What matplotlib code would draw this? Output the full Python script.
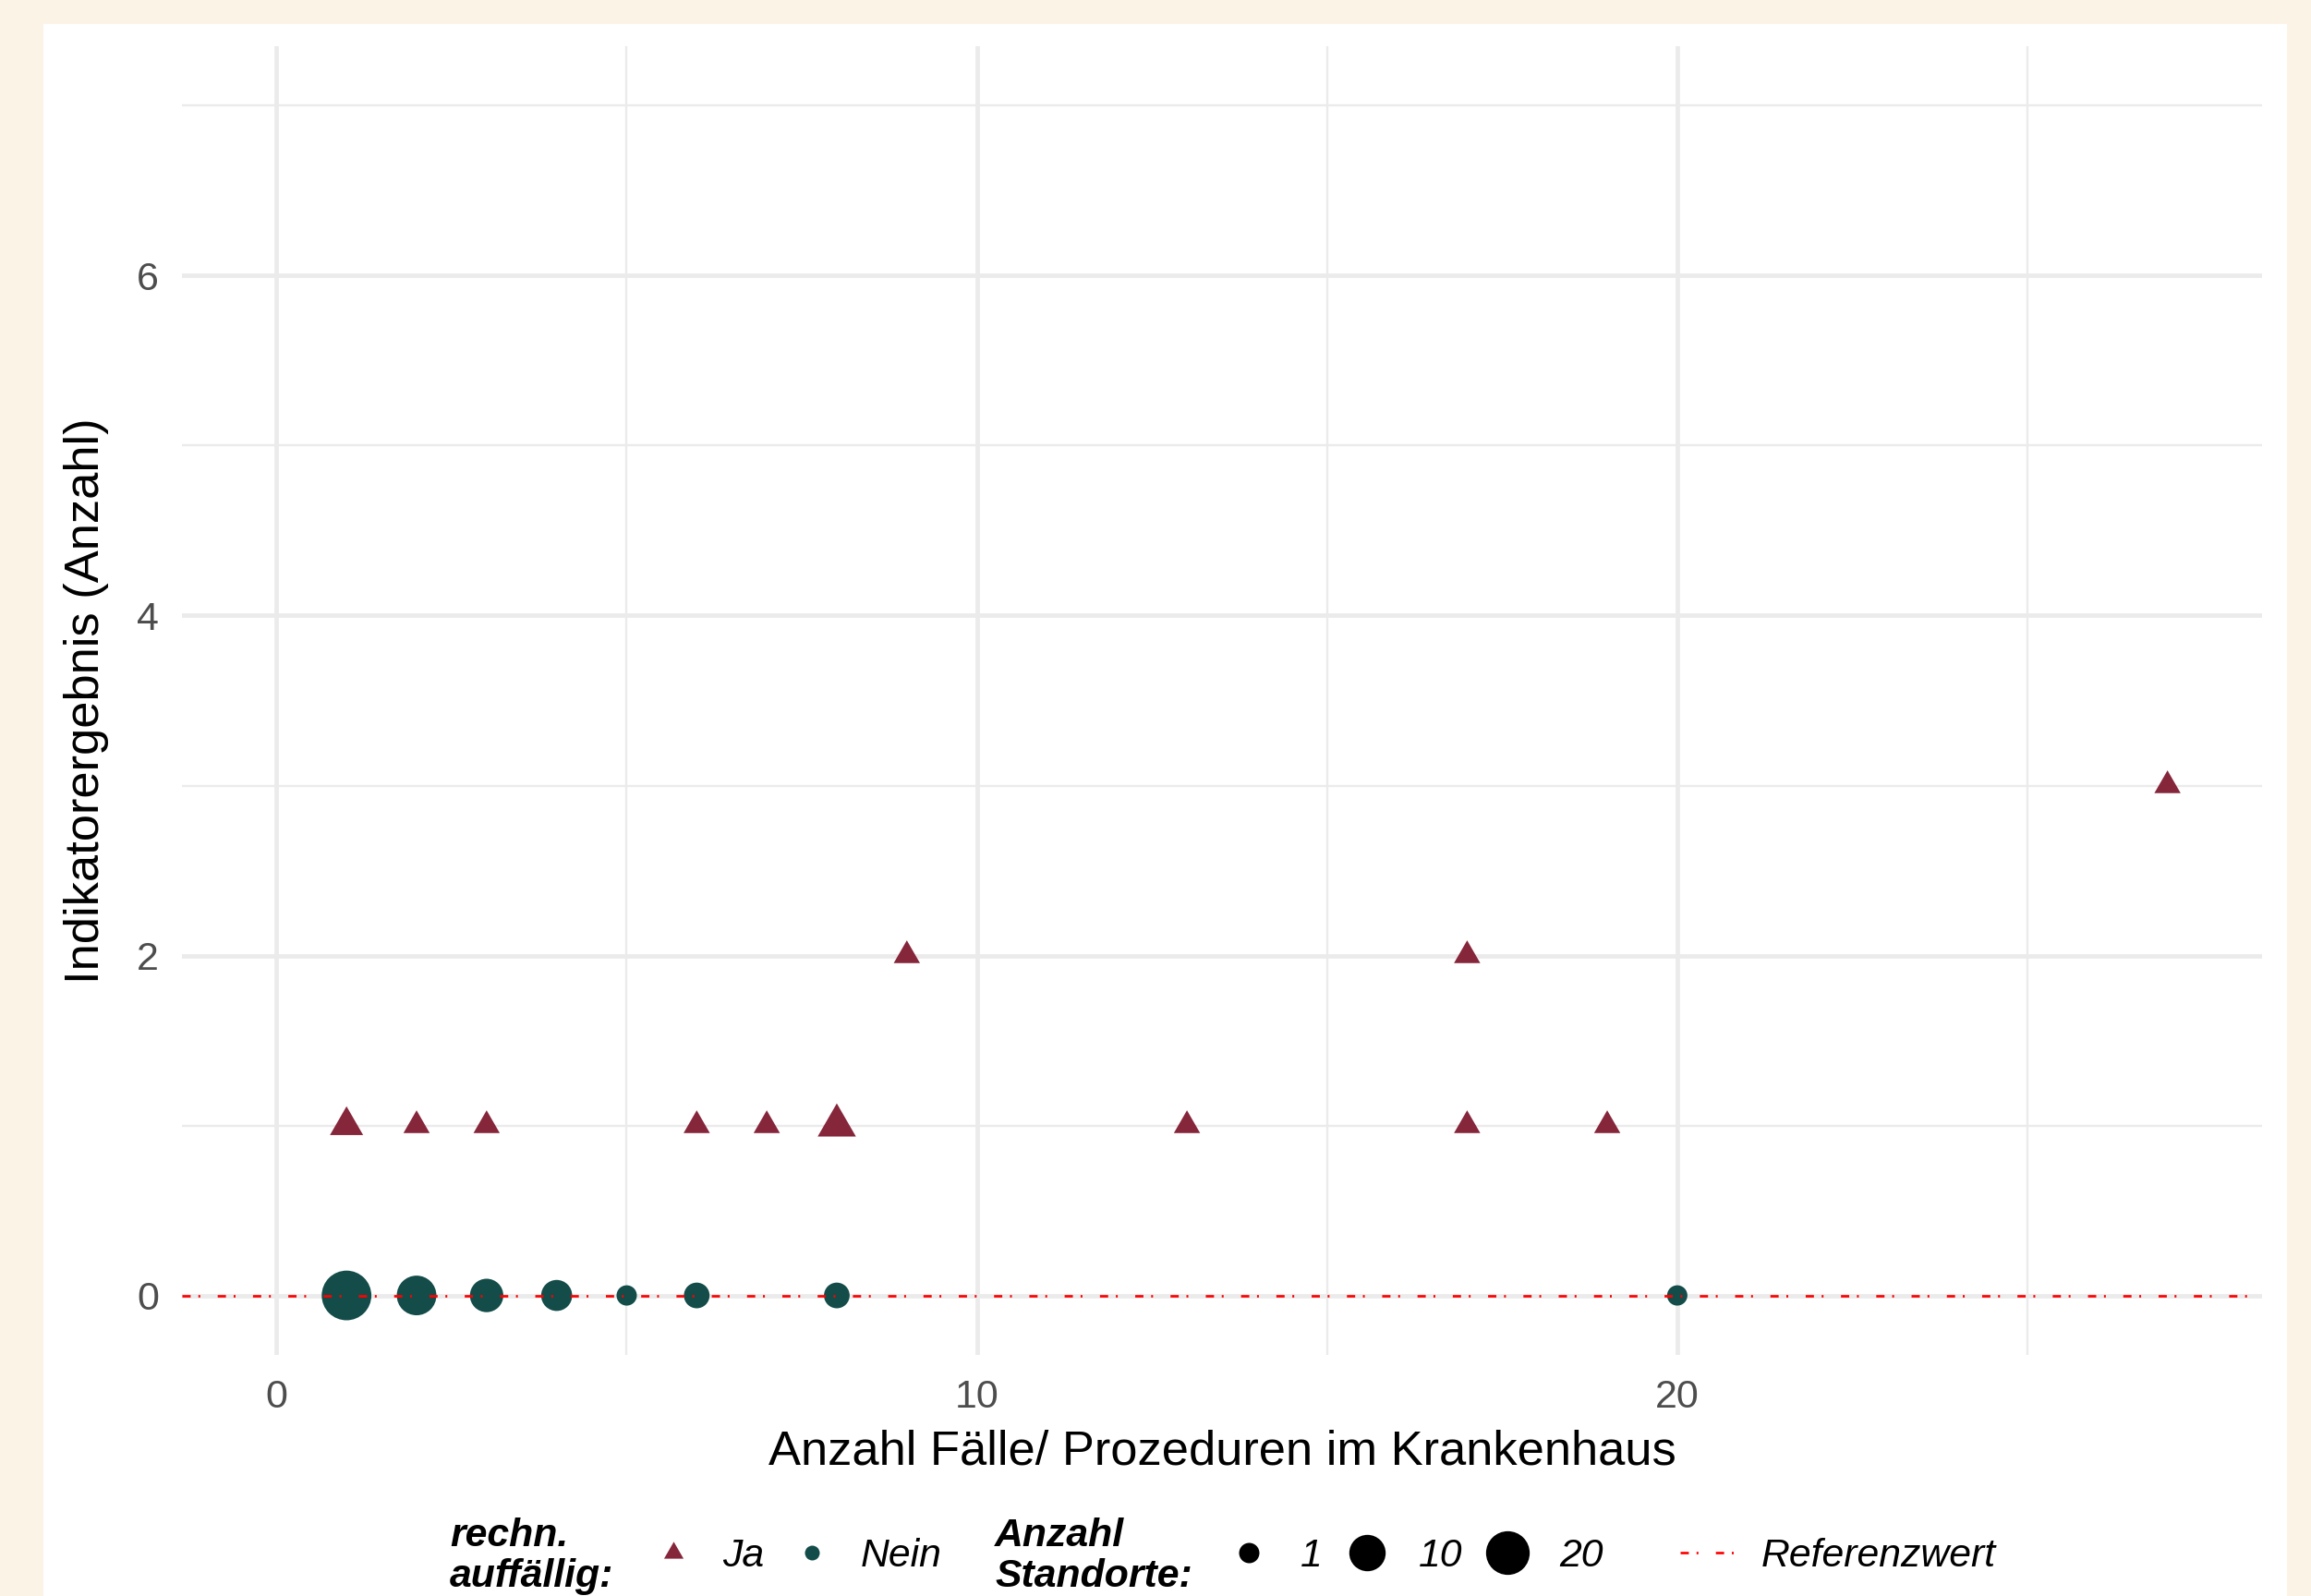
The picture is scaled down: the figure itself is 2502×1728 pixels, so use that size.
import numpy as np
import matplotlib
matplotlib.use("Agg")
import matplotlib.pyplot as plt
from matplotlib.lines import Line2D
from matplotlib.patches import Rectangle

plt.rcParams['font.family'] = ['Liberation Sans', 'DejaVu Sans']

# data: rechnerisch auffaellig (Ja) / nicht auffaellig (Nein)
ja_x = [1, 2, 3, 6, 7, 8, 9, 13, 17, 17, 19, 27]
ja_y = [1, 1, 1, 1, 1, 1, 2, 1, 2, 1, 1, 3]
ja_n = [2, 1, 1, 1, 1, 4, 1, 1, 1, 1, 1, 1]

nein_x = [1, 2, 3, 4, 5, 6, 8, 20]
nein_y = [0, 0, 0, 0, 0, 0, 0, 0]
nein_n = [31, 14, 7, 5, 1, 2, 2, 1]

referenzwert = 0
size_breaks = [1, 10, 20]

col_ja = '#86263A'
col_nein = '#134C49'
bg = '#FBF4E6'

W, H, DPI = 2502, 1728, 200
PT = 72 / DPI  # points per pixel


def diam_px(n):
    # diameter of a circle marker in pixels for a count of Standorte
    return 22 + 5.8 * np.sqrt(np.asarray(n, dtype=float) - 1)


# equilateral triangle, centred on its centroid
tri = [(0, 1), (-np.sqrt(3) / 2, -0.5), (np.sqrt(3) / 2, -0.5), (0, 1)]
TRI_RATIO = 1.12  # triangle height relative to circle diameter


def tri_ms(n):
    h = diam_px(n) * TRI_RATIO * PT
    return h / 0.75


fig = plt.figure(figsize=(W / DPI, H / DPI), dpi=DPI, facecolor=bg)
fig.patches.append(Rectangle((47 / W, 0), (2476 - 47) / W, 1 - 26 / H,
                             transform=fig.transFigure, facecolor='white',
                             edgecolor='none', zorder=-5))

ax = fig.add_axes([197 / W, 1 - 1467 / H, (2449 - 197) / W, (1467 - 50) / H])
ax.set_zorder(1)
ax.set_facecolor('white')
for s in ax.spines.values():
    s.set_visible(False)

ax.set_xlim(-1.35, 28.35)
ax.set_ylim(-0.35, 7.35)
ax.set_xticks([0, 10, 20])
ax.set_xticks([5, 15, 25], minor=True)
ax.set_yticks([0, 2, 4, 6])
ax.set_yticks([1, 3, 5, 7], minor=True)
ax.grid(True, which='major', color='#EBEBEB', linewidth=4.7 * PT)
ax.grid(True, which='minor', color='#EBEBEB', linewidth=2.4 * PT)
ax.set_axisbelow(True)
ax.tick_params(which='both', length=0, labelsize=15.5, labelcolor='#4D4D4D')
ax.tick_params(axis='x', pad=9.5)
ax.tick_params(axis='y', pad=9)

ax.scatter(nein_x, nein_y, s=(diam_px(nein_n) * PT) ** 2, marker='o',
           color=col_nein, linewidths=0, zorder=2)
ax.scatter(ja_x, ja_y, s=tri_ms(ja_n) ** 2, marker=tri,
           color=col_ja, linewidths=0, zorder=2)

dash = (3.3, 3.1, 0.75, 7.0)
ax.axhline(referenzwert, color='red', linewidth=2.7 * PT, dashes=dash, zorder=3)

ax.set_xlabel('Anzahl Fälle/ Prozeduren im Krankenhaus', fontsize=18.9,
              labelpad=5)
ax.set_ylabel('Indikatorergebnis (Anzahl)', fontsize=18.9, labelpad=11)

# legends at the bottom
fs = 15.4
ly = 1 - 1685 / H
tkw = dict(fontsize=fs, fontweight='bold', style='italic', ha='left',
           va='center', linespacing=1.1)
fig.text(487 / W, ly, 'rechn.\nauffällig:', **tkw)
fig.text(1077 / W, ly, 'Anzahl\nStandorte:', **tkw)

h_shape = [
    Line2D([], [], linestyle='none', marker=tri, color=col_ja,
           markeredgewidth=0, markersize=18.3 * PT / 0.75),
    Line2D([], [], linestyle='none', marker='o', color=col_nein,
           markeredgewidth=0, markersize=16 * PT),
]
h_size = [Line2D([], [], linestyle='none', marker='o', color='black',
                 markeredgewidth=0, markersize=float(diam_px(b)) * PT)
          for b in size_breaks]
h_ref = [Line2D([], [], color='red', linewidth=2.7 * PT, dashes=dash)]

lkw = dict(loc='center left', frameon=False, borderpad=0, borderaxespad=0,
           prop={'size': fs, 'style': 'italic'})
fig.legend(h_shape, ['Ja', 'Nein'], ncol=2, bbox_to_anchor=(712 / W, ly),
           handlelength=0.8, handletextpad=0.84, columnspacing=0.8, **lkw)
fig.legend(h_size, [str(b) for b in size_breaks], ncol=3,
           bbox_to_anchor=(1326 / W, ly), handlelength=1.2,
           handletextpad=0.72, columnspacing=0.52, **lkw)
fig.legend(h_ref, ['Referenzwert'], ncol=1, bbox_to_anchor=(1819 / W, ly),
           handlelength=1.42, handletextpad=0.62, **lkw)

fig.savefig('out.png', dpi=DPI, facecolor=bg)
